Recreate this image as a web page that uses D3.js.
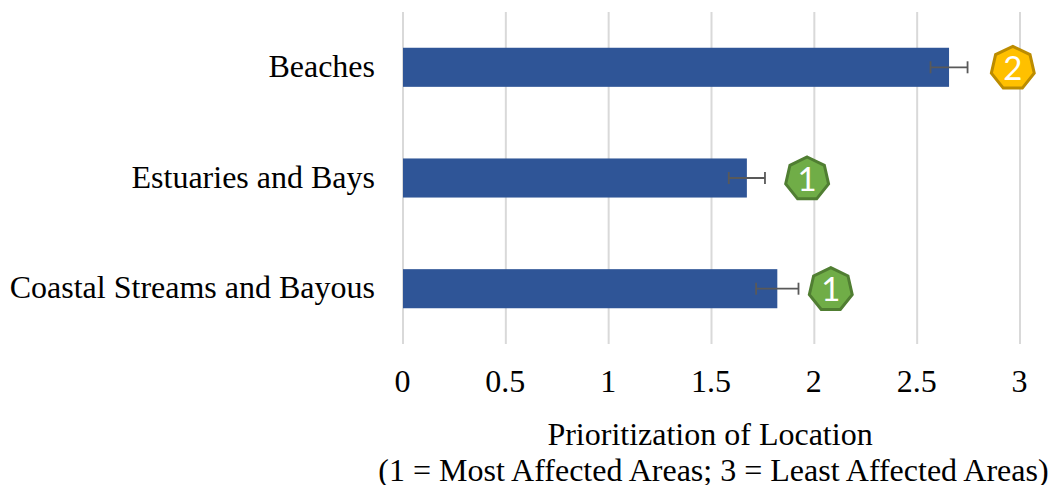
<!DOCTYPE html>
<html><head><meta charset="utf-8">
<script src="https://cdn.jsdelivr.net/npm/d3@7"></script>
<style>html,body{margin:0;padding:0;background:#fff;overflow:hidden}text{font-family:"Liberation Serif",serif;fill:#000}</style>
</head><body><svg id="c" width="1051" height="485"></svg>
<script>
const categories=["Beaches","Estuaries and Bays","Coastal Streams and Bayous"];
const values=[2.655,1.672,1.82];
const errors=[0.09,0.088,0.103];
const badgeLabels=["2","1","1"];
const badgeX=[2.965,1.965,2.08];
const badgeColors=[["#ffc000","#bc8c00"],["#70ad47","#507e32"],["#70ad47","#507e32"]];
const tickValues=[0,0.5,1,1.5,2,2.5,3];
const xTitle=["Prioritization of Location","(1 = Most Affected Areas; 3 = Least Affected Areas)"];

const svg=d3.select("#c");
const x=d3.scaleLinear().domain([0,3]).range([403,1020]);
const y=d3.scaleBand().domain(categories).range([12,344]).padding(0.647).paddingOuter(0.323);

const xAxis=d3.axisBottom(x).tickValues(tickValues).tickFormat(d3.format("~g")).tickSize(0).tickPadding(0);
const gx=svg.append("g").attr("transform","translate(0,392)").call(xAxis);
gx.select(".domain").remove();
gx.selectAll("text").attr("x",-1).attr("y",0).attr("dy",0).style("font-size","32px").style("font-family",'"Liberation Serif",serif').attr("fill","#000");

svg.append("g").selectAll("line").data(tickValues).join("line")
 .attr("x1",d=>x(d)).attr("x2",d=>x(d)).attr("y1",12).attr("y2",344)
 .attr("stroke","#d9d9d9").attr("stroke-width",2);

svg.append("g").selectAll("rect").data(categories).join("rect")
 .attr("x",x(0)).attr("y",d=>y(d)).attr("height",y.bandwidth())
 .attr("width",(d,i)=>x(values[i])-x(0)).attr("fill","#2f5597");

const yAxis=d3.axisLeft(y).tickSize(0).tickPadding(28);
const gy=svg.append("g").attr("transform","translate(403,0)").call(yAxis);
gy.select(".domain").remove();
gy.selectAll("text").attr("dy","0.3em").style("font-size","32px").style("font-family",'"Liberation Serif",serif').attr("fill","#000");

const err=svg.append("g").attr("stroke","#595959").attr("stroke-width",1.8).attr("fill","none");
categories.forEach((c,i)=>{
 const cy=y(c)+y.bandwidth()/2, a=x(values[i]-errors[i]), b=x(values[i]+errors[i]);
 err.append("line").attr("x1",a).attr("x2",b).attr("y1",cy).attr("y2",cy);
 [a,b].forEach(p=>err.append("line").attr("x1",p).attr("x2",p).attr("y1",cy-6).attr("y2",cy+6));
});

const r=22;
const hept=d3.range(7).map(k=>{const t=-Math.PI/2+k*2*Math.PI/7;return [r*Math.cos(t),r*Math.sin(t)];});
categories.forEach((c,i)=>{
 const g=svg.append("g").attr("transform",`translate(${x(badgeX[i])},${y(c)+y.bandwidth()/2+1})`);
 g.append("polygon").attr("points",hept.join(" ")).attr("fill",badgeColors[i][0]).attr("stroke",badgeColors[i][1]).attr("stroke-width",3);
 g.append("text").attr("text-anchor","middle").attr("y",11.5).style("font-family",'Lato,sans-serif').style("font-size","33px").style("fill","#fff").text(badgeLabels[i]);
});

svg.append("text").attr("x",710).attr("y",445).attr("text-anchor","middle").style("font-size","32px").text(xTitle[0]);
svg.append("text").attr("x",713.5).attr("y",481).attr("text-anchor","middle").style("font-size","32px").text(xTitle[1]);
</script></body></html>
